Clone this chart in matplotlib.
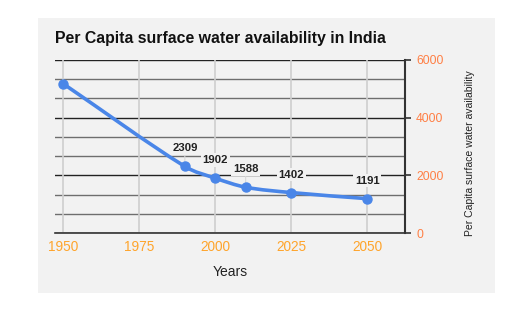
import matplotlib
matplotlib.use("Agg")
import matplotlib.pyplot as plt
from matplotlib.path import Path
from matplotlib.patches import PathPatch, Rectangle
import numpy as np

plt.rcParams['font.family'] = ['Liberation Sans', 'DejaVu Sans']

years = [1950, 1990, 2000, 2010, 2025, 2050]
values = [5177, 2309, 1902, 1588, 1402, 1191]
labelled = [False, True, True, True, True, True]
x_ticks = [1950, 1975, 2000, 2025, 2050]
y_ticks = [0, 2000, 4000, 6000]
title = "Per Capita surface water availability in India"
x_label = "Years"
y_label = "Per Capita surface water availability"

W, H = 532, 323
fig = plt.figure(figsize=(W / 100, H / 100), dpi=100)
fig.patch.set_facecolor('white')
fig.add_artist(Rectangle((38 / W, 1 - 292.7 / H), (495 - 38) / W, (292.7 - 17.7) / H,
                         transform=fig.transFigure, facecolor='#f2f2f2', edgecolor='none', zorder=0))

ax = fig.add_axes([55 / W, 1 - 233 / H, 350 / W, 173 / H])
ax.set_facecolor('none')
ax.set_xlim(1947.3, 2062.4)
ax.set_ylim(0, 6000)

# grid
for yv in np.arange(0, 6001, 6000 / 9):
    major = any(abs(yv - t) < 1 for t in y_ticks)
    ax.axhline(yv, color='#222222' if major else '#6e6e6e', lw=1.0, zorder=1)
for xv in x_ticks:
    ax.axvline(xv, color='#cfcfcf', lw=1.2, zorder=1)

for s in ['top', 'left']:
    ax.spines[s].set_visible(False)
ax.spines['right'].set_color('#333333')
ax.spines['right'].set_linewidth(1.5)
ax.spines['bottom'].set_color('#333333')
ax.spines['bottom'].set_linewidth(1.2)

ax.yaxis.tick_right()
ax.yaxis.set_label_position('right')
ax.set_yticks(y_ticks)
ax.set_yticklabels([str(t) for t in y_ticks])
ax.tick_params(axis='y', colors='#333333', labelcolor='#ff7f45', length=4, width=1.2,
               labelsize=8.7, pad=4)
ax.set_xticks(x_ticks)
ax.set_xticklabels([str(t) for t in x_ticks])
ax.tick_params(axis='x', length=0, labelcolor='#ffa42b', labelsize=9.8, pad=5)

ax.set_xlabel(x_label, fontsize=10, color='#222222')
ax.xaxis.set_label_coords(0.5, -(272.5 - 233) / 173)
ax.xaxis.label.set_va('center')
ax.set_ylabel(y_label, fontsize=7.5, color='#222222')
ax.yaxis.set_label_coords((470 - 55) / 350, (233 - 153) / 173)
ax.yaxis.label.set_va('center')

# smooth line via cubic Bezier (Hermite) through the data points
xs = np.array(years, dtype=float)
ys = np.array(values, dtype=float)
n = len(xs)
m = np.zeros(n)
for i in range(n):
    if i == 0:
        m[i] = (ys[1] - ys[0]) / (xs[1] - xs[0])
    elif i == n - 1:
        m[i] = (ys[-1] - ys[-2]) / (xs[-1] - xs[-2])
    else:
        m[i] = (ys[i + 1] - ys[i - 1]) / (xs[i + 1] - xs[i - 1])
verts = [(xs[0], ys[0])]
codes = [Path.MOVETO]
for i in range(n - 1):
    dx = xs[i + 1] - xs[i]
    verts += [(xs[i] + dx / 3, ys[i] + m[i] * dx / 3),
              (xs[i + 1] - dx / 3, ys[i + 1] - m[i + 1] * dx / 3),
              (xs[i + 1], ys[i + 1])]
    codes += [Path.CURVE4] * 3
ax.add_patch(PathPatch(Path(verts, codes), facecolor='none', edgecolor='#4a86e8',
                       lw=2.6, zorder=3, capstyle='round'))

for xv, yv, lab in zip(years, values, labelled):
    if lab:
        ax.annotate(str(yv), (xv, yv), xytext=(0, 13), textcoords='offset points',
                    ha='center', va='center', fontsize=8.2, fontweight='bold', color='#222222',
                    bbox=dict(boxstyle='square,pad=0.15', facecolor='#f2f2f2', edgecolor='none'),
                    arrowprops=dict(arrowstyle='-', color='#d8d8d8', lw=0.8, shrinkA=0, shrinkB=0),
                    zorder=5)

ax.plot(years, values, 'o', color='#4a86e8', ms=6.5, zorder=6)

fig.text(55 / W, 1 - 38 / H, title, fontsize=11.4, fontweight='bold', color='#111111',
         ha='left', va='center')

fig.savefig('out.png', dpi=100)
